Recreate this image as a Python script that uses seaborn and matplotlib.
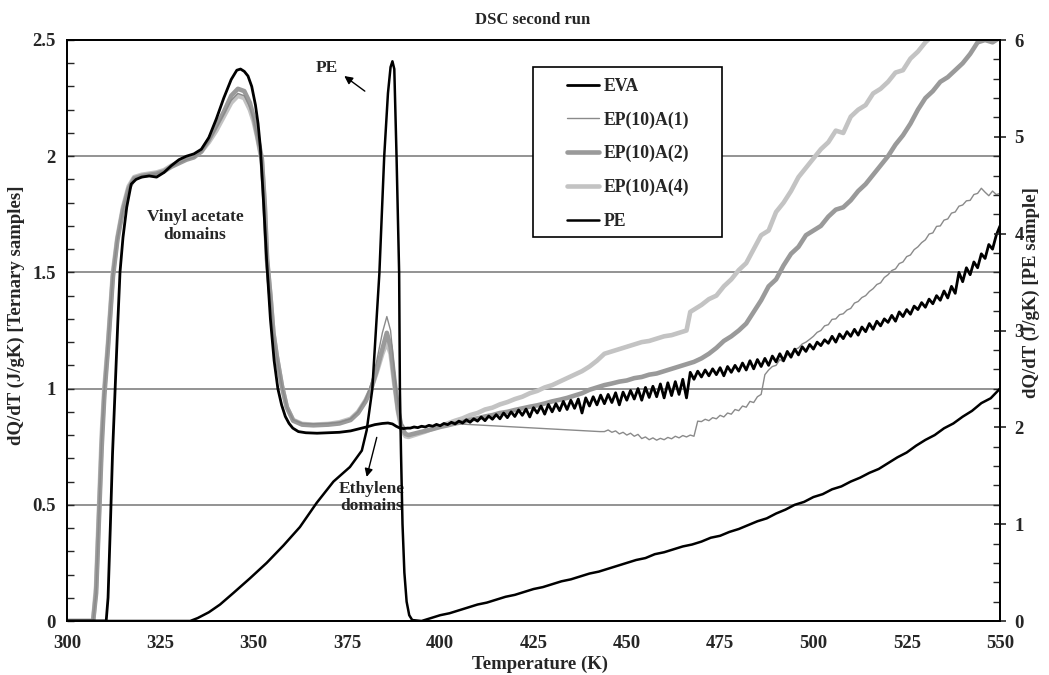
import matplotlib
matplotlib.use("Agg")
import matplotlib.pyplot as plt
import seaborn as sns
from matplotlib.ticker import MultipleLocator, FuncFormatter
from matplotlib.patches import Rectangle
from matplotlib.lines import Line2D

# ---------------------------------------------------------------- data
# EVA (left axis, J/gK)
eva_t = [300, 310.5, 311.0, 311.6, 312.2, 312.9, 313.6, 314.2, 315.0, 316.0,
         317.2, 318.5, 320, 322, 324, 326, 328, 330, 332, 334,
         336, 338, 340, 342, 344, 345.5, 346.5, 347.5, 348.5, 349.5,
         350.5, 351.2, 351.8, 352.5, 353.5, 354.5, 355.5, 356.5, 357.5, 358.5,
         359.5, 360.5, 362, 364, 367, 370, 373, 376, 378.5, 380.5,
         382.5, 384.5, 386, 387.2, 388.2, 389.2, 390.2, 391.2] + list(range(392, 551))
eva_v = [0, 0, 0.1, 0.4, 0.72, 1.0, 1.28, 1.5, 1.65, 1.78,
         1.88, 1.90, 1.91, 1.915, 1.91, 1.93, 1.96, 1.985, 2.0, 2.01,
         2.03, 2.08, 2.16, 2.25, 2.33, 2.37, 2.375, 2.365, 2.345, 2.30,
         2.22, 2.14, 2.04, 1.85, 1.55, 1.3, 1.12, 1.0, 0.93, 0.88,
         0.85, 0.83, 0.815, 0.81, 0.808, 0.81, 0.812, 0.818, 0.828, 0.836,
         0.845, 0.85, 0.852, 0.848, 0.838, 0.83, 0.828, 0.83,
         # 392 .. 550
         0.830, 0.835, 0.832, 0.838, 0.835, 0.842, 0.838, 0.846, 0.840, 0.850,
         0.845, 0.855, 0.848, 0.860, 0.852, 0.866, 0.855, 0.870, 0.860, 0.878,
         0.862, 0.882, 0.868, 0.888, 0.870, 0.895, 0.875, 0.900, 0.880, 0.908,
         0.885, 0.912, 0.878, 0.918, 0.895, 0.925, 0.890, 0.932, 0.900, 0.935,
         0.905, 0.945, 0.910, 0.950, 0.915, 0.955, 0.895, 0.960, 0.925, 0.965,
         0.930, 0.972, 0.935, 0.975, 0.940, 0.982, 0.930, 0.985, 0.950, 0.992,
         0.955, 1.000, 0.950, 1.005, 0.962, 1.010, 0.965, 1.020, 0.960, 1.025,
         0.970, 1.030, 0.975, 1.040, 0.960, 1.070, 1.040, 1.075, 1.050, 1.080,
         1.055, 1.085, 1.060, 1.090, 1.055, 1.095, 1.070, 1.100, 1.075, 1.110,
         1.080, 1.120, 1.085, 1.125, 1.095, 1.130, 1.100, 1.140, 1.115, 1.150,
         1.120, 1.160, 1.135, 1.170, 1.145, 1.180, 1.160, 1.190, 1.170, 1.200,
         1.185, 1.210, 1.195, 1.225, 1.200, 1.235, 1.215, 1.245, 1.225, 1.255,
         1.230, 1.265, 1.245, 1.280, 1.255, 1.290, 1.270, 1.300, 1.285, 1.315,
         1.290, 1.330, 1.310, 1.340, 1.320, 1.355, 1.340, 1.370, 1.350, 1.385,
         1.365, 1.400, 1.380, 1.420, 1.390, 1.440, 1.410, 1.500, 1.460, 1.520,
         1.490, 1.545, 1.520, 1.580, 1.560, 1.620, 1.600, 1.660, 1.700]

# ternary samples share the same temperature grid up to the ethylene peak
ter_t = [300, 307.0, 307.8, 308.6, 309.3, 310.0, 311.0, 312.3, 313.5, 315.0,
         316.5, 318, 320, 322, 324, 326, 328, 330, 332, 334,
         336, 338, 340, 342, 344, 345.8, 347.5, 349, 350, 351,
         352.2, 353, 353.6, 354.5, 355.3, 356.2, 357.6, 358.9, 360.6, 363,
         366, 370, 373, 376, 378, 380, 381.5, 383, 384.5, 385.7,
         386.7, 387.7, 388.7, 389.7, 390.7, 391.5]

a1_v = [0, 0, 0.12, 0.47, 0.78, 0.99, 1.19, 1.49, 1.64, 1.77,
        1.86, 1.905, 1.915, 1.92, 1.925, 1.935, 1.955, 1.97, 1.985, 1.995,
        2.02, 2.065, 2.12, 2.18, 2.24, 2.27, 2.26, 2.21, 2.16, 2.085,
        1.985, 1.785, 1.555, 1.4, 1.24, 1.14, 1.01, 0.92, 0.865, 0.85,
        0.848, 0.85, 0.855, 0.87, 0.9, 0.955, 1.02, 1.12, 1.24, 1.31,
        1.25, 1.08, 0.93, 0.85, 0.83, 0.83]
a1_tail_t = [393, 395, 397, 399, 401, 402.6, 442.8] + list(range(444, 551))
a1_tail_v = [0.832, 0.834, 0.838, 0.842, 0.846, 0.850, 0.815,
             0.815, 0.822, 0.812, 0.818, 0.805, 0.812, 0.800, 0.808, 0.795, 0.803,
             0.785, 0.792, 0.780, 0.788, 0.778, 0.786, 0.780, 0.790, 0.784, 0.795,
             0.788, 0.798, 0.792, 0.800, 0.795, 0.860, 0.858, 0.868, 0.862, 0.875,
             0.870, 0.885, 0.878, 0.895, 0.890, 0.910, 0.905, 0.925, 0.920, 0.945,
             0.940, 0.965, 0.975, 1.060, 1.080, 1.095, 1.100, 1.125, 1.115, 1.145,
             1.150, 1.168, 1.175, 1.192, 1.200, 1.212, 1.225, 1.242, 1.250, 1.270,
             1.275, 1.298, 1.300, 1.318, 1.322, 1.338, 1.345, 1.368, 1.375, 1.392,
             1.400, 1.418, 1.430, 1.448, 1.455, 1.478, 1.490, 1.508, 1.515, 1.538,
             1.545, 1.568, 1.575, 1.598, 1.610, 1.628, 1.640, 1.665, 1.670, 1.698,
             1.700, 1.725, 1.730, 1.755, 1.760, 1.785, 1.790, 1.808, 1.810, 1.835,
             1.840, 1.862, 1.845, 1.830, 1.850, 1.835, 1.840]

a2_v = [0, 0, 0.12, 0.45, 0.75, 0.97, 1.18, 1.48, 1.64, 1.77,
        1.86, 1.905, 1.915, 1.92, 1.925, 1.935, 1.955, 1.97, 1.985, 1.995,
        2.02, 2.07, 2.13, 2.19, 2.26, 2.29, 2.28, 2.23, 2.17, 2.09,
        1.99, 1.79, 1.56, 1.4, 1.24, 1.14, 1.01, 0.92, 0.862, 0.845,
        0.842, 0.845, 0.85, 0.865, 0.895, 0.945, 1.0, 1.08, 1.17, 1.24,
        1.18, 1.04, 0.91, 0.83, 0.805, 0.80]
a2_tail_t = list(range(394, 551, 2))
a2_tail_v = [0.810, 0.818, 0.826, 0.835, 0.842, 0.850, 0.856, 0.866, 0.872, 0.880,
             0.886, 0.895, 0.900, 0.908, 0.915, 0.922, 0.928, 0.936, 0.945, 0.952,
             0.960, 0.970, 0.980, 0.995, 1.005, 1.015, 1.022, 1.030, 1.035, 1.045,
             1.050, 1.060, 1.065, 1.075, 1.085, 1.095, 1.105, 1.115, 1.130, 1.150,
             1.175, 1.205, 1.225, 1.250, 1.280, 1.330, 1.380, 1.440, 1.470, 1.530,
             1.580, 1.610, 1.660, 1.680, 1.700, 1.740, 1.770, 1.780, 1.810, 1.850,
             1.880, 1.920, 1.960, 2.000, 2.050, 2.090, 2.140, 2.200, 2.250, 2.280,
             2.320, 2.340, 2.370, 2.400, 2.440, 2.490, 2.500, 2.490, 2.510]

a4_v = [0, 0, 0.15, 0.5, 0.8, 1.0, 1.2, 1.5, 1.65, 1.78,
        1.87, 1.91, 1.92, 1.925, 1.93, 1.94, 1.96, 1.975, 1.99, 2.0,
        2.02, 2.06, 2.11, 2.17, 2.23, 2.26, 2.25, 2.2, 2.15, 2.08,
        1.98, 1.78, 1.55, 1.4, 1.24, 1.14, 1.01, 0.92, 0.865, 0.848,
        0.845, 0.848, 0.855, 0.87, 0.9, 0.95, 1.0, 1.07, 1.15, 1.2,
        1.15, 1.02, 0.9, 0.82, 0.795, 0.792]
a4_tail_t = list(range(394, 467, 2)) + [467] + list(range(468, 535, 2))
a4_tail_v = [0.805, 0.815, 0.828, 0.838, 0.850, 0.862, 0.872, 0.886, 0.895, 0.910,
             0.918, 0.932, 0.942, 0.955, 0.965, 0.980, 0.990, 1.005, 1.015, 1.030,
             1.045, 1.060, 1.075, 1.095, 1.120, 1.150, 1.160, 1.170, 1.180, 1.190,
             1.200, 1.205, 1.215, 1.225, 1.230, 1.240, 1.250,
             1.330,
             1.340, 1.360, 1.385, 1.400, 1.440, 1.470, 1.510, 1.540, 1.600, 1.660,
             1.680, 1.760, 1.800, 1.850, 1.910, 1.950, 1.990, 2.030, 2.060, 2.110,
             2.100, 2.170, 2.200, 2.220, 2.270, 2.290, 2.320, 2.360, 2.370, 2.420,
             2.450, 2.490, 2.520, 2.560]

# PE (right axis, J/gK)
pe_t = [300, 333, 335, 338, 341, 344.6, 349, 353.5, 358, 362.4,
        366.9, 371.4, 375.8, 377.5, 379, 380.3, 381.8, 383.7, 385.0, 386.0,
        386.7, 387.2, 387.7, 388.3, 389.0, 389.2, 389.5, 389.9, 390.4, 391.0,
        391.7, 392.5] + [395 + 2.5 * i for i in range(63)]
pe_v = [0, 0, 0.03, 0.09, 0.17, 0.29, 0.44, 0.60, 0.78, 0.97,
        1.22, 1.44, 1.59, 1.68, 1.76, 1.97, 2.39, 3.59, 4.80, 5.45,
        5.72, 5.78, 5.70, 4.80, 3.59, 2.39, 1.73, 1.00, 0.50, 0.20,
        0.06, 0.01,
        0.00, 0.03, 0.06, 0.08, 0.11, 0.14, 0.17, 0.19, 0.22, 0.25,
        0.27, 0.30, 0.33, 0.35, 0.38, 0.41, 0.43, 0.46, 0.49, 0.51,
        0.54, 0.57, 0.60, 0.63, 0.65, 0.69, 0.71, 0.74, 0.77, 0.79,
        0.82, 0.86, 0.88, 0.92, 0.95, 0.99, 1.03, 1.06, 1.11, 1.15,
        1.20, 1.23, 1.28, 1.31, 1.36, 1.39, 1.44, 1.48, 1.53, 1.57,
        1.63, 1.69, 1.74, 1.81, 1.87, 1.92, 1.99, 2.04, 2.11, 2.17,
        2.25, 2.30, 2.40]

series_names = ["EVA", "EP(10)A(1)", "EP(10)A(2)", "EP(10)A(4)", "PE"]
x_ticks = [300, 325, 350, 375, 400, 425, 450, 475, 500, 525, 550]

# ---------------------------------------------------------------- style
sns.set_style("white")
plt.rcParams["font.family"] = ["Liberation Serif", "DejaVu Serif"]
plt.rcParams["font.weight"] = "bold"
plt.rcParams["axes.labelweight"] = "bold"

styles = {
    "EVA": dict(color="black", lw=2.0),
    "EP(10)A(1)": dict(color="#8a8a8a", lw=1.0),
    "EP(10)A(2)": dict(color="#9a9a9a", lw=3.3),
    "EP(10)A(4)": dict(color="#c3c3c3", lw=3.3),
    "PE": dict(color="black", lw=1.8),
}

fig = plt.figure(figsize=(10.49, 6.75), dpi=100)
ax = fig.add_axes([67 / 1049, 54 / 675, 933 / 1049, 581 / 675])
ax2 = ax.twinx()

def draw(axis, t, v, name):
    st = styles[name]
    sns.lineplot(x=t, y=v, ax=axis, color=st["color"], linewidth=st["lw"],
                 estimator=None, sort=False, legend=False)

draw(ax, ter_t + a4_tail_t, a4_v + a4_tail_v, "EP(10)A(4)")
draw(ax, ter_t + a2_tail_t, a2_v + a2_tail_v, "EP(10)A(2)")
draw(ax, ter_t + a1_tail_t, a1_v + a1_tail_v, "EP(10)A(1)")
draw(ax, eva_t, eva_v, "EVA")
draw(ax2, pe_t, pe_v, "PE")

# ---------------------------------------------------------------- axes
ax.set_xlim(300, 550)
ax.set_ylim(0, 2.5)
ax2.set_ylim(0, 6)
ax.set_xticks(x_ticks)
ax.xaxis.set_minor_locator(MultipleLocator(5))
ax.yaxis.set_major_locator(MultipleLocator(0.5))
ax.yaxis.set_minor_locator(MultipleLocator(0.1))
ax2.yaxis.set_major_locator(MultipleLocator(1))
ax2.yaxis.set_minor_locator(MultipleLocator(0.2))
fmt = FuncFormatter(lambda val, pos: f"{val:g}")
ax.yaxis.set_major_formatter(fmt)
ax2.yaxis.set_major_formatter(fmt)

ax.grid(axis="y", which="major", color="#808080", lw=1.2)
ax.grid(axis="x", visible=False)
ax.set_axisbelow(True)

for a in (ax, ax2):
    for sp in a.spines.values():
        sp.set_color("black")
        sp.set_linewidth(1.3)
        sp.set_visible(True)

ax.tick_params(axis="x", which="major", direction="inout", length=8, width=1.2,
               labelsize=13.5, pad=6, top=False)
ax.tick_params(axis="x", which="minor", direction="in", length=5, width=1.0, top=False)
ax.tick_params(axis="y", which="major", direction="in", length=5, width=1.0,
               labelsize=13.5, pad=8)
ax.tick_params(axis="y", which="minor", direction="in", length=5, width=1.0)
ax2.tick_params(axis="y", which="major", direction="inout", length=9, width=1.2,
                labelsize=13.5, pad=6)
ax2.tick_params(axis="y", which="minor", direction="in", length=5, width=1.0)

ax.set_xlabel("Temperature (K)", fontsize=13.5, fontweight="bold")
ax.xaxis.set_label_coords(0.507, -0.06)
ax.set_ylabel("dQ/dT (J/gK) [Ternary samples]", fontsize=13.5, fontweight="bold")
ax.yaxis.set_label_coords(-0.045, 0.527)
ax2.set_ylabel("dQ/dT (J/gK) [PE sample]", fontsize=13.5, fontweight="bold")
ax2.yaxis.set_label_coords(1.024, 0.566)

fig.text(533 / 1049, 1 - 20 / 675, "DSC second run", ha="center", va="center",
         fontsize=12, fontweight="bold")

# ---------------------------------------------------------------- annotations
ax.text(334.3, 1.70, "Vinyl acetate\ndomains", ha="center", va="center",
        fontsize=12.5, fontweight="bold", linespacing=1.2)
ax.text(369.7, 2.38, "PE", ha="center", va="center", fontsize=12.5, fontweight="bold")
ax.annotate("", xy=(374.3, 2.345), xytext=(379.8, 2.28),
            arrowprops=dict(arrowstyle="-|>", color="black", lw=1.0,
                            mutation_scale=12, shrinkA=0, shrinkB=0))
ax.text(381.7, 0.53, "Ethylene\ndomains", ha="center", va="center",
        fontsize=12.5, fontweight="bold", linespacing=1.1)
ax.annotate("", xy=(380.3, 0.62), xytext=(383.0, 0.79),
            arrowprops=dict(arrowstyle="-|>", color="black", lw=1.0,
                            mutation_scale=12, shrinkA=0, shrinkB=0))

# ---------------------------------------------------------------- legend
ax2.add_patch(Rectangle((0.4995, 0.661), 0.2026, 0.2926, transform=ax2.transAxes,
                        facecolor="white", edgecolor="black", lw=1.2, zorder=0.5))
handles = [Line2D([], [], color=styles[n]["color"], lw=styles[n]["lw"]) for n in series_names]
ax2.legend(handles, series_names, loc="upper left", bbox_to_anchor=(0.5354, 0.935),
           bbox_transform=ax2.transAxes, frameon=False, borderpad=0, borderaxespad=0,
           handlelength=1.8, handletextpad=0.3, labelspacing=0.93,
           prop=dict(family=["Liberation Serif"], weight="bold", size=12.8))

fig.savefig("out.png", dpi=100)
